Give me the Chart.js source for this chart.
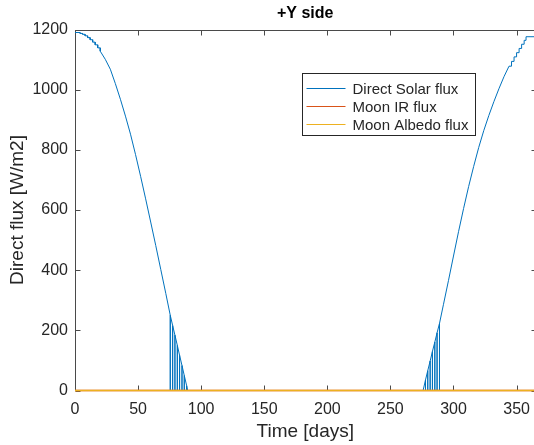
<!DOCTYPE html>
<html>
<head>
<meta charset="utf-8">
<script src="https://cdn.jsdelivr.net/npm/chart.js@4.4.1/dist/chart.umd.min.js"></script>
<style>
  html, body { margin: 0; padding: 0; background: #fff; overflow: hidden; }
  #wrap { width: 540px; height: 445px; }
</style>
</head>
<body>
<div id="wrap"><canvas id="fluxChart" width="540" height="445"></canvas></div>
<script>
// Direct solar flux (vertex list: days / W/m2)
const solarDays = [
  0, 4, 4, 6, 6, 8, 8, 10, 10, 12, 12, 14, 14, 16, 16, 18, 18, 20, 20,
  24, 28, 32, 36, 40, 44, 48, 52, 56, 60, 64, 68, 72,
  75.5, 75.5, 75.5, 77.4, 77.4, 77.4, 79.2, 79.2, 79.2, 81.1, 81.1, 81.1,
  82.9, 82.9, 82.9, 84.8, 84.8, 84.8, 86.6, 86.6, 86.6, 88.5, 88.5, 88.5, 89.3,
  275.9, 277.8, 277.8, 277.8, 279.6, 279.6, 279.6, 281.5, 281.5, 281.5,
  283.3, 283.3, 283.3, 285.2, 285.2, 285.2, 287.0, 287.0, 287.0, 288.9, 288.9, 288.9,
  292, 296, 300, 304, 308, 312, 316, 320, 324, 328, 332, 336, 340, 344,
  346, 346, 348, 348, 350, 350, 352, 352, 354, 354, 356, 356, 357.5, 357.5, 365
];
const solarFlux = [
  1190, 1190, 1187, 1187, 1184, 1184, 1179, 1179, 1173, 1173, 1166, 1166, 1158, 1158, 1149, 1149, 1139, 1139, 1128,
  1101, 1068, 1020, 968, 912, 852, 784, 712, 637, 560, 482, 402, 322,
  250, 0, 250, 216, 0, 216, 184, 0, 184, 150, 0, 150,
  117, 0, 117, 83, 0, 83, 50, 0, 50, 16, 0, 16, 0,
  0, 35, 0, 35, 66, 0, 66, 98, 0, 98,
  130, 0, 130, 161, 0, 161, 192, 0, 192, 223, 0, 223,
  285, 365, 447, 528, 605, 678, 745, 808, 864, 914, 960, 1003, 1043, 1078,
  1078, 1094, 1094, 1109, 1109, 1123, 1123, 1137, 1137, 1151, 1151, 1164, 1164, 1176, 1176
];

// Moon contributions stay at zero on this side
const moonDays = [0, 365];
const moonIR = [0, 0];
const moonAlbedo = [0, 0];

const seriesNames = ["Direct Solar flux", "Moon IR flux", "Moon Albedo flux"];
const seriesColors = ["#0072BD", "#D95319", "#EDB120"];

const xTicks = [0, 50, 100, 150, 200, 250, 300, 350];
const yTicks = [0, 200, 400, 600, 800, 1000, 1200];

const textColor = "#262626";
const axisColor = "#4a4a4a";

Chart.defaults.font.family = "'Liberation Sans', Arial, Helvetica, sans-serif";
Chart.defaults.color = textColor;

function toPoints(xs, ys) {
  return xs.map((x, i) => ({ x: x, y: ys[i] }));
}

// MATLAB look: box round the axes, ticks pointing inward on all 4 sides
const boxAxes = {
  id: "boxAxes",
  beforeDatasetsDraw(chart) {
    const { ctx, chartArea: a, scales } = chart;
    const L = Math.round(a.left) + 0.5, R = Math.round(a.right) + 0.5;
    const T = Math.round(a.top) + 0.5, B = Math.round(a.bottom) - 0.5;
    ctx.save();
    ctx.strokeStyle = axisColor;
    ctx.lineWidth = 1;
    ctx.strokeRect(L, T, R - L, B - T);
    ctx.beginPath();
    xTicks.forEach(v => {
      const px = Math.round(scales.x.getPixelForValue(v)) + 0.5;
      ctx.moveTo(px, B); ctx.lineTo(px, B - 5);
      ctx.moveTo(px, T); ctx.lineTo(px, T + 5);
    });
    yTicks.forEach(v => {
      const py = Math.round(scales.y.getPixelForValue(v)) + 0.5;
      ctx.moveTo(L, py); ctx.lineTo(L + 5, py);
      ctx.moveTo(R, py); ctx.lineTo(R - 5, py);
    });
    ctx.stroke();
    ctx.restore();
  }
};

// legend box inside the axes, top right
const boxLegend = {
  id: "boxLegend",
  afterDraw(chart) {
    const { ctx, chartArea: a } = chart;
    const lx = Math.round(a.right - 234) + 0.5;
    const ly = Math.round(a.top + 43) + 0.5;
    const w = 173, h = 62;
    ctx.save();
    ctx.fillStyle = "#fff";
    ctx.fillRect(lx, ly, w, h);
    ctx.strokeStyle = textColor;
    ctx.lineWidth = 1;
    ctx.strokeRect(lx, ly, w, h);
    ctx.font = "15px 'Liberation Sans', Arial, sans-serif";
    ctx.textBaseline = "middle";
    chart.data.datasets.forEach((ds, i) => {
      const ry = Math.round(ly + 14 + i * 18.3) + 0.5;
      ctx.strokeStyle = ds.borderColor;
      ctx.beginPath();
      ctx.moveTo(lx + 4, ry);
      ctx.lineTo(lx + 43, ry);
      ctx.stroke();
      ctx.fillStyle = textColor;
      ctx.fillText(ds.label, lx + 50, ry + 1);
    });
    ctx.restore();
  }
};

const ctx = document.getElementById("fluxChart").getContext("2d");
new Chart(ctx, {
  type: "line",
  data: {
    datasets: [
      {
        label: seriesNames[0],
        data: toPoints(solarDays, solarFlux),
        borderColor: seriesColors[0],
        borderWidth: 1,
        pointRadius: 0,
        tension: 0,
        order: 3
      },
      {
        label: seriesNames[1],
        data: toPoints(moonDays, moonIR),
        borderColor: seriesColors[1],
        borderWidth: 1.5,
        pointRadius: 0,
        clip: false,
        order: 2
      },
      {
        label: seriesNames[2],
        data: toPoints(moonDays, moonAlbedo),
        borderColor: seriesColors[2],
        borderWidth: 1.5,
        pointRadius: 0,
        clip: false,
        order: 1
      }
    ]
  },
  options: {
    responsive: false,
    animation: false,
    events: [],
    layout: { padding: { left: 0, right: 4.5, top: 0, bottom: 0 } },
    plugins: {
      legend: { display: false },
      tooltip: { enabled: false },
      title: {
        display: true,
        fullSize: false,
        text: "+Y side",
        color: "#000",
        font: { size: 16, weight: "bold" },
        padding: { top: 3.5, bottom: 6.8 }
      }
    },
    scales: {
      x: {
        type: "linear",
        min: 0,
        max: 365,
        grid: { display: false, drawTicks: false },
        border: { display: false },
        afterBuildTicks: s => { s.ticks = xTicks.map(v => ({ value: v })); },
        afterFit: s => { s.height = 54.5; },
        ticks: { font: { size: 16 }, padding: 9, maxRotation: 0, callback: v => String(v) },
        title: {
          display: true,
          text: "Time [days]",
          font: { size: 19 },
          padding: { top: 0, bottom: 1.6 }
        }
      },
      y: {
        type: "linear",
        min: 0,
        max: 1200,
        grid: { display: false, drawTicks: false },
        border: { display: false },
        afterBuildTicks: s => { s.ticks = yTicks.map(v => ({ value: v })); },
        afterFit: s => { s.width = 75; },
        ticks: { font: { size: 16 }, padding: 7, callback: v => String(v) },
        title: {
          display: true,
          text: "Direct flux [W/m2]",
          font: { size: 19 },
          padding: { top: 6, bottom: 0 }
        }
      }
    }
  },
  plugins: [boxAxes, boxLegend]
});
</script>
</body>
</html>
